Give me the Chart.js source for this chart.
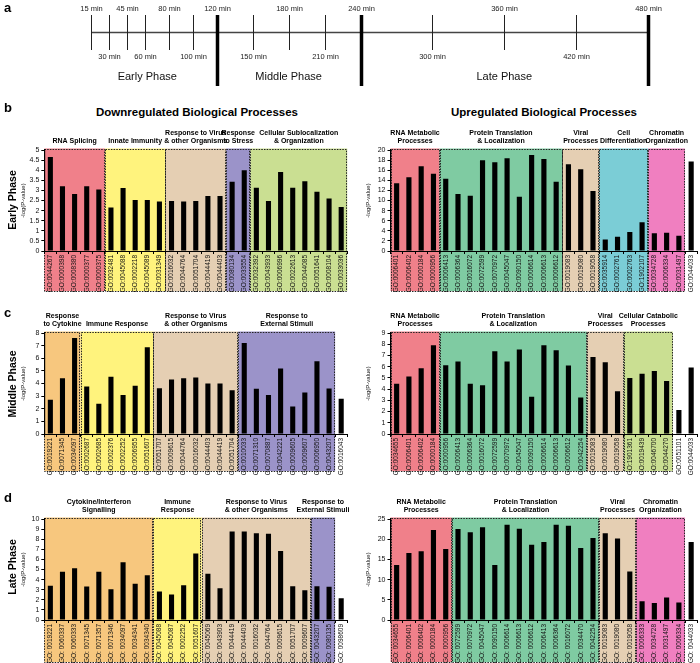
<!DOCTYPE html>
<html><head><meta charset="utf-8">
<script src="https://cdn.jsdelivr.net/npm/chart.js@4"></script>
<style>
body{margin:0;width:700px;height:663px;position:relative;background:#fff;font-family:"Liberation Sans",Arial,sans-serif;overflow:hidden}
canvas{position:absolute}
.t{position:absolute;white-space:nowrap;color:#000;line-height:1}
.letter{font-weight:bold;font-size:13px}
.title{font-weight:bold;font-size:11.5px;transform:translateX(-50%)}
.row{font-weight:bold;font-size:10.5px;transform:translate(-50%,-50%) rotate(-90deg)}
</style></head><body>
<canvas id="tl" style="left:0;top:0" width="700" height="100"></canvas>
<canvas id="bL" style="left:20px;top:125px" width="330" height="170"></canvas>
<canvas id="bR" style="left:365px;top:125px" width="335" height="170"></canvas>
<canvas id="cL" style="left:20px;top:308px" width="330" height="167"></canvas>
<canvas id="cR" style="left:365px;top:308px" width="335" height="167"></canvas>
<canvas id="dL" style="left:20px;top:494px" width="330" height="169"></canvas>
<canvas id="dR" style="left:365px;top:494px" width="335" height="169"></canvas>
<div class="t letter" style="left:4px;top:1px">a</div>
<div class="t letter" style="left:4px;top:101px">b</div>
<div class="t letter" style="left:4px;top:306px">c</div>
<div class="t letter" style="left:4px;top:491px">d</div>
<div class="t title" style="left:197px;top:107px">Downregulated Biological Processes</div>
<div class="t title" style="left:544px;top:107px">Upregulated Biological Processes</div>
<div class="t row" style="left:12px;top:200px">Early Phase</div>
<div class="t row" style="left:12px;top:384px">Middle Phase</div>
<div class="t row" style="left:12px;top:567px">Late Phase</div>
<script>
// ---------- DATA ----------
const timePoints = [15,30,45,60,80,100,120,150,180,210,240,300,360,420,480];
const timeLabelsAbove = [15,45,80,120,180,240,360,480];
const phaseBoundaries = [120,240,480];
const phaseNames = ['Early Phase','Middle Phase','Late Phase'];
const phaseLabelTimes = [62,180,360];

const earlyDownLabels = ['GO:0044267','GO:0000398','GO:0008380','GO:0000377','GO:0000375','GO:0032481','GO:0045088','GO:0002218','GO:0045089','GO:0031349','GO:0016032','GO:0044764','GO:0051704','GO:0044419','GO:0044403','GO:0080134','GO:0033554','GO:0032392','GO:0043933','GO:0006996','GO:0022613','GO:0044085','GO:0051641','GO:0008104','GO:0033036'];
const earlyDownValues = [4.65,3.2,2.82,3.2,3.05, 2.15,3.12,2.52,2.52,2.45, 2.48,2.45,2.48,2.72,2.72, 3.43,4.0, 3.13,2.47,3.91,3.13,3.45,2.93,2.6,2.18];
const earlyDownGroups = [['RNA Splicing'],['Innate Immunity'],['Response to Virus','& other Organisms'],['Response','to Stress'],['Cellular Sublocalization','& Organization']];
const earlyDownGroupSizes = [5,5,5,2,8];

const earlyUpLabels = ['GO:0006401','GO:0006402','GO:0000184','GO:0000956','GO:0006413','GO:0006364','GO:0016072','GO:0072599','GO:0070972','GO:0045047','GO:0090150','GO:0006614','GO:0006613','GO:0006612','GO:0019083','GO:0019080','GO:0019058','GO:0035914','GO:0002761','GO:0002763','GO:1902107','GO:0034728','GO:0006334','GO:0031497','GO:0044033'];
const earlyUpValues = [13.4,14.6,16.8,15.3, 14.3,11.3,10.95,17.95,17.55,18.35,10.75,19.0,18.2,13.7, 17.2,16.2,11.9, 2.3,2.8,3.75,5.7, 3.5,3.6,3.0, 17.7];
const earlyUpGroups = [['RNA Metabolic','Processes'],['Protein Translation','& Localization'],['Viral','Processes'],['Cell','Differentiation'],['Chromatin','Organization']];
const earlyUpGroupSizes = [4,10,3,4,3];

const middleDownLabels = ['GO:0019221','GO:0071345','GO:0034097','GO:0002687','GO:0002685','GO:0002376','GO:0002252','GO:0006955','GO:0051607','GO:0051707','GO:0009615','GO:0044764','GO:0016032','GO:0044403','GO:0044419','GO:0051704','GO:0010033','GO:0071310','GO:0070887','GO:0042221','GO:0009605','GO:0009607','GO:0006950','GO:0043207','GO:0016043'];
const middleDownValues = [2.71,4.42,7.6, 3.76,2.39,4.53,3.08,3.82,6.87, 3.63,4.32,4.42,4.47,4.0,4.0,3.47, 7.21,3.58,3.08,5.18,2.18,3.29,5.76,3.6, 2.79];
const middleDownGroups = [['Response','to Cytokine'],['Immune Response'],['Response to Virus','& other Organisms'],['Response to','External Stimuli']];
const middleDownGroupSizes = [3,6,7,8];

const middleUpLabels = ['GO:0034655','GO:0006401','GO:0006402','GO:0000184','GO:0000956','GO:0006413','GO:0006364','GO:0016072','GO:0072599','GO:0070972','GO:0045047','GO:0090150','GO:0006614','GO:0006613','GO:0006612','GO:0042254','GO:0019083','GO:0019080','GO:0019058','GO:1901361','GO:0019439','GO:0046700','GO:0044270','GO:0051101','GO:0044033'];
const middleUpValues = [4.47,5.12,5.86,7.9, 6.12,6.45,4.47,4.35,7.37,6.45,7.52,3.31,7.9,7.46,6.1,3.25, 6.86,6.39,3.82, 5.0,5.36,5.62,4.73, 2.13,5.92];
const middleUpGroups = [['RNA Metabolic','Processes'],['Protein Translation','& Localization'],['Viral','Processes'],['Cellular Catabolic','Processes']];
const middleUpGroupSizes = [4,12,3,4];

const lateDownLabels = ['GO: 0019221','GO: 0060337','GO: 0060333','GO: 0071345','GO: 0071357','GO: 0071346','GO: 0034097','GO: 0034341','GO: 0034340','GO: 0045088','GO: 0045087','GO: 0002252','GO: 0051607','GO: 0045069','GO: 0043903','GO: 0044419','GO: 0044403','GO: 0016032','GO: 0044764','GO: 0009615','GO: 0051707','GO: 0009607','GO: 0043207','GO: 0080135','GO: 0098609'];
const lateDownValues = [3.38,4.77,5.13,3.31,4.77,3.05,5.73,3.6,4.44, 2.81,2.52,3.44,6.59, 4.57,3.15,8.77,8.77,8.6,8.54,6.82,3.34,2.95, 3.34,3.28, 2.15];
const lateDownGroups = [['Cytokine/Interferon','Signalling'],['Immune','Response'],['Response to Virus','& other Organisms'],['Response to','External Stimuli']];
const lateDownGroupSizes = [9,4,9,2];

const lateUpLabels = ['GO: 0034655','GO: 0006401','GO: 0006402','GO: 0000184','GO: 0000956','GO: 0072599','GO: 0070972','GO: 0045047','GO: 0090150','GO: 0006614','GO: 0006613','GO: 0006612','GO: 0006413','GO: 0006364','GO: 0016072','GO: 0034470','GO: 0042254','GO: 0019083','GO: 0019080','GO: 0019058','GO: 0006333','GO: 0034728','GO: 0031497','GO: 0006334','GO: 0044033'];
const lateUpValues = [13.6,16.6,17.0,22.3,17.6, 22.5,21.7,22.95,13.6,23.6,22.6,18.6,19.3,23.6,23.3,17.8,20.3, 21.5,20.2,12.0, 4.67,4.18,5.57,4.34, 19.3];
const lateUpGroups = [['RNA Metabolic','Processes'],['Protein Translation','& Localization'],['Viral','Processes'],['Chromatin','Organization']];
const lateUpGroupSizes = [5,12,3,4];

// ---------- STYLE ----------
const C = {rna:'#F0808A', yellow:'#FFF37D', tan:'#E5CFB3', purple:'#9B93C9', lime:'#CADF92', green:'#7FCBA2', cyan:'#7BCDD6', pink:'#F07FC0', orange:'#F7C77E'};
const groupColors = {
 'RNA Splicing':C.rna, 'RNA Metabolic Processes':C.rna,
 'Innate Immunity':C.yellow, 'Immune Response':C.yellow,
 'Response to Virus & other Organisms':C.tan, 'Viral Processes':C.tan,
 'Response to Stress':C.purple, 'Response to External Stimuli':C.purple,
 'Cellular Sublocalization & Organization':C.lime, 'Cellular Catabolic Processes':C.lime,
 'Protein Translation & Localization':C.green, 'Cell Differentiation':C.cyan,
 'Chromatin Organization':C.pink, 'Response to Cytokine':C.orange, 'Cytokine/Interferon Signalling':C.orange
};
const FONT = '"Liberation Sans", Arial, Helvetica, sans-serif';
Chart.defaults.font.family = FONT;
Chart.defaults.color = '#000';

// ---------- TIMELINE ----------
new Chart(document.getElementById('tl'), {
  type:'scatter',
  data:{datasets:[{data:timePoints.map(t=>({x:t,y:0})), pointRadius:0, showLine:false}]},
  options:{animation:false, responsive:false, events:[],
    layout:{padding:{left:91,right:52,top:0,bottom:0}},
    plugins:{legend:{display:false},tooltip:{enabled:false}},
    scales:{x:{type:'linear',min:15,max:480,display:false},y:{display:false,min:0,max:1}}},
  plugins:[{id:'timeline', afterDraw(chart){
    const ctx=chart.ctx, x=chart.scales.x;
    ctx.save();
    ctx.strokeStyle='#444'; ctx.lineWidth=1.6;
    ctx.beginPath(); ctx.moveTo(x.getPixelForValue(timePoints[0]),32.5); ctx.lineTo(x.getPixelForValue(timePoints[timePoints.length-1]),32.5); ctx.stroke();
    ctx.font='7.5px '+FONT; ctx.fillStyle='#222'; ctx.textAlign='center'; ctx.textBaseline='middle';
    timePoints.forEach(t=>{
      const px=Math.round(x.getPixelForValue(t))+0.5;
      const thick=phaseBoundaries.includes(t);
      ctx.strokeStyle=thick?'#000':'#222'; ctx.lineWidth=thick?3.5:1;
      ctx.beginPath(); ctx.moveTo(px,15); ctx.lineTo(px,thick?86:50); ctx.stroke();
      ctx.fillText(t+' min', px, timeLabelsAbove.includes(t)?8.5:56.5);
    });
    ctx.font='11px '+FONT; ctx.fillStyle='#111';
    phaseNames.forEach((n,i)=>ctx.fillText(n, x.getPixelForValue(phaseLabelTimes[i]), 77));
    ctx.restore();
  }}]
});

// ---------- BAR PANELS ----------
function makePanel(id, labels, values, groups, sizes, yMax, yStep, o){
  const starts=[]; let s=0; sizes.forEach(n=>{starts.push(s); s+=n;});
  const plugin = {
    id:'grp_'+id,
    beforeDraw(chart){
      const ctx=chart.ctx, x=chart.scales.x, y=chart.scales.y;
      const half=(x.getPixelForValue(1)-x.getPixelForValue(0))/2;
      const top=y.getPixelForValue(yMax)-1.5, bottom=chart.height-o.boxInset;
      ctx.save();
      groups.forEach((g,i)=>{
        const l=x.getPixelForValue(starts[i])-half, r=x.getPixelForValue(starts[i]+sizes[i]-1)+half;
        ctx.fillStyle=groupColors[g.join(' ')];
        ctx.fillRect(l,top,r-l,bottom-top);
      });
      ctx.setLineDash([1.5,1.2]); ctx.lineWidth=1; ctx.strokeStyle='#222';
      groups.forEach((g,i)=>{
        const l=x.getPixelForValue(starts[i])-half, r=x.getPixelForValue(starts[i]+sizes[i]-1)+half;
        ctx.strokeRect(Math.round(l)+0.5,Math.round(top)+0.5,Math.round(r-l)-1,Math.round(bottom-top)-1);
      });
      ctx.restore();
    },
    afterDraw(chart){
      const ctx=chart.ctx, x=chart.scales.x, y=chart.scales.y;
      const half=(x.getPixelForValue(1)-x.getPixelForValue(0))/2;
      const top=y.getPixelForValue(yMax);
      ctx.save();
      ctx.font='bold 7px '+FONT; ctx.fillStyle='#000'; ctx.textAlign='center'; ctx.textBaseline='middle';
      groups.forEach((g,i)=>{
        const l=x.getPixelForValue(starts[i])-half, r=x.getPixelForValue(starts[i]+sizes[i]-1)+half;
        g.forEach((line,k)=>ctx.fillText(line,(l+r)/2, top-9-(g.length-1-k)*8));
      });
      ctx.restore();
    }
  };
  new Chart(document.getElementById(id), {
    type:'bar',
    data:{labels:labels, datasets:[{data:values, backgroundColor:'#000', borderWidth:0, barPercentage:0.42, categoryPercentage:1}]},
    options:{animation:false, responsive:false, events:[],
      layout:{padding:{left:0,right:o.padRight,top:25,bottom:0}},
      plugins:{legend:{display:false},tooltip:{enabled:false}},
      scales:{
        x:{afterFit(sc){sc.height=o.xH;},
           border:{display:true,color:'#000',width:1},
           grid:{display:true,drawOnChartArea:false,tickLength:3,color:'#000'},
           ticks:{autoSkip:false,maxRotation:90,minRotation:90,padding:1,font:{size:6.5},color:'#111'}},
        y:{min:0,max:yMax,afterFit(sc){sc.width=o.yW;},
           border:{display:true,color:'#000',width:1.2},
           grid:{display:true,drawOnChartArea:false,tickLength:3,color:'#000'},
           ticks:{stepSize:yStep,autoSkip:false,padding:2,font:{size:7},color:'#111',callback:v=>String(+v.toFixed(2))},
           title:{display:true,text:'-log(P-value)',font:{size:6},padding:0,color:'#111'}}
      }},
    plugins:[plugin]
  });
}
makePanel('bL', earlyDownLabels, earlyDownValues, earlyDownGroups, earlyDownGroupSizes, 5, 0.5, {yW:24.3, padRight:0.5, xH:44, boxInset:4});
makePanel('bR', earlyUpLabels, earlyUpValues, earlyUpGroups, earlyUpGroupSizes, 20, 2, {yW:25.5, padRight:2, xH:44, boxInset:4});
makePanel('cL', middleDownLabels, middleDownValues, middleDownGroups, middleDownGroupSizes, 8, 1, {yW:24.3, padRight:0.5, xH:41, boxInset:4});
makePanel('cR', middleUpLabels, middleUpValues, middleUpGroups, middleUpGroupSizes, 9, 1, {yW:25.5, padRight:2, xH:41, boxInset:4});
makePanel('dL', lateDownLabels, lateDownValues, lateDownGroups, lateDownGroupSizes, 10, 1, {yW:24.3, padRight:0.5, xH:43, boxInset:1});
makePanel('dR', lateUpLabels, lateUpValues, lateUpGroups, lateUpGroupSizes, 25, 5, {yW:25.5, padRight:2, xH:43, boxInset:1});
</script>
</body></html>
